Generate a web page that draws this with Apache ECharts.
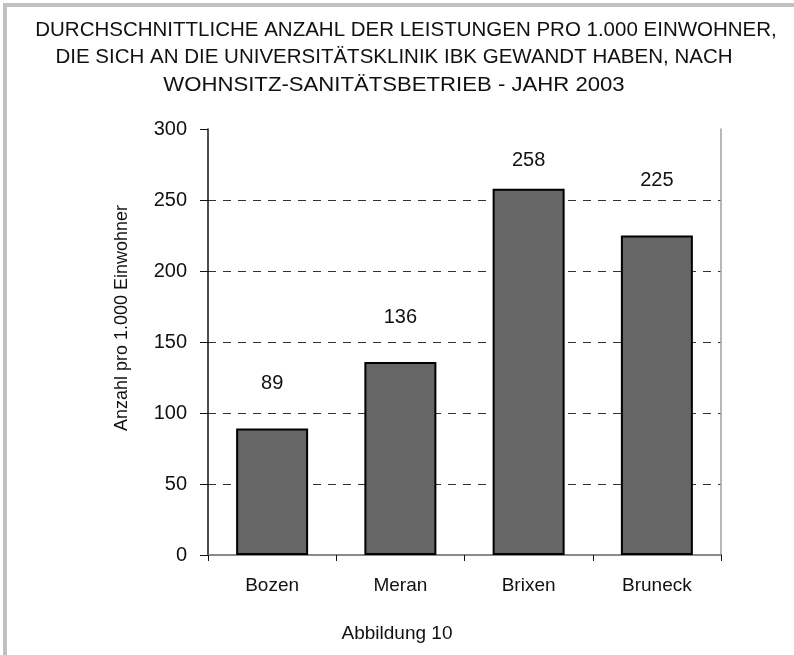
<!DOCTYPE html>
<html>
<head>
<meta charset="utf-8">
<script src="https://cdn.jsdelivr.net/npm/echarts@6/dist/echarts.min.js"></script>
<style>
  html, body { margin: 0; padding: 0; background: #fff; }
  #main { width: 794px; height: 655px; }
</style>
</head>
<body>
<div id="main"></div>
<script>
var categories = ['Bozen', 'Meran', 'Brixen', 'Bruneck'];
var values = [89, 136, 258, 225];
var yTicks = [0, 50, 100, 150, 200, 250, 300];
var titleLines = [
    'DURCHSCHNITTLICHE ANZAHL DER LEISTUNGEN PRO 1.000 EINWOHNER,',
    'DIE SICH AN DIE UNIVERSITÄTSKLINIK IBK GEWANDT HABEN, NACH',
    'WOHNSITZ-SANITÄTSBETRIEB - JAHR 2003'
];
// labels were placed by hand in the original, so the gap differs per bar
var labelGaps = [35, 34, 18, 45];

var FONT = 'Liberation Sans';
var chart = echarts.init(document.getElementById('main'));

var titleGraphics = titleLines.map(function (line, i) {
    return {
        type: 'text',
        x: i === 0 ? 406 : 394,
        y: 30 + i * 27.5,
        scaleX: i === 2 ? 1.08 : 1,
        style: {
            text: line,
            align: 'center',
            verticalAlign: 'middle',
            fontFamily: FONT,
            fontSize: 20.5,
            fill: '#111'
        }
    };
});

var barData = values.map(function (v, i) {
    return { value: v, label: { distance: labelGaps[i] } };
});

var option = {
    backgroundColor: '#fff',
    animation: false,
    textStyle: { fontFamily: FONT, color: '#111' },
    grid: { left: 208, right: 73, top: 129, bottom: 100 },
    xAxis: [{
        type: 'category',
        data: categories,
        axisLine: { lineStyle: { color: '#111', width: 1.5 } },
        axisTick: { show: true, length: 6, alignWithLabel: false, lineStyle: { color: '#111' } },
        axisLabel: { fontSize: 19, margin: 21, color: '#111', fontFamily: FONT }
    }, {
        type: 'category',
        position: 'top',
        data: categories,
        axisLine: { lineStyle: { color: '#a0a0a0', width: 1.5 } },
        axisTick: { show: false },
        axisLabel: { show: false }
    }],
    yAxis: [{
        type: 'value',
        min: yTicks[0],
        max: yTicks[yTicks.length - 1],
        interval: 50,
        axisLine: { show: true, lineStyle: { color: '#111', width: 1.5 } },
        axisTick: { show: true, length: 8, lineStyle: { color: '#111' } },
        axisLabel: { fontSize: 20, margin: 21, color: '#111', fontFamily: FONT },
        splitLine: {
            show: true,
            showMinLine: false,
            showMaxLine: false,
            lineStyle: { color: '#333', type: [8, 7], width: 1 }
        }
    }, {
        type: 'value',
        position: 'right',
        min: yTicks[0],
        max: yTicks[yTicks.length - 1],
        interval: 50,
        axisLine: { show: true, lineStyle: { color: '#a0a0a0', width: 1.5 } },
        axisTick: { show: false },
        axisLabel: { show: false },
        splitLine: { show: false }
    }],
    graphic: titleGraphics.concat([
        {
            type: 'text',
            x: 122,
            y: 318,
            rotation: Math.PI / 2,
            style: {
                text: 'Anzahl pro 1.000 Einwohner',
                align: 'center',
                verticalAlign: 'middle',
                fontFamily: FONT,
                fontSize: 18,
                fill: '#111'
            }
        },
        {
            type: 'text',
            x: 397,
            y: 634,
            style: {
                text: 'Abbildung 10',
                align: 'center',
                verticalAlign: 'middle',
                fontFamily: FONT,
                fontSize: 19,
                fill: '#111'
            }
        },
        {
            type: 'line',
            shape: { x1: 3, y1: 5, x2: 794, y2: 5 },
            style: { stroke: '#c0c0c0', lineWidth: 4 }
        },
        {
            type: 'line',
            shape: { x1: 5, y1: 3, x2: 5, y2: 655 },
            style: { stroke: '#c0c0c0', lineWidth: 4 }
        }
    ]),
    series: [{
        type: 'bar',
        data: barData,
        barWidth: 72,
        itemStyle: { color: '#666666', borderColor: '#000', borderWidth: 2 },
        label: {
            show: true,
            position: 'top',
            fontSize: 20,
            color: '#111',
            fontFamily: FONT
        }
    }]
};

chart.setOption(option);
</script>
</body>
</html>
